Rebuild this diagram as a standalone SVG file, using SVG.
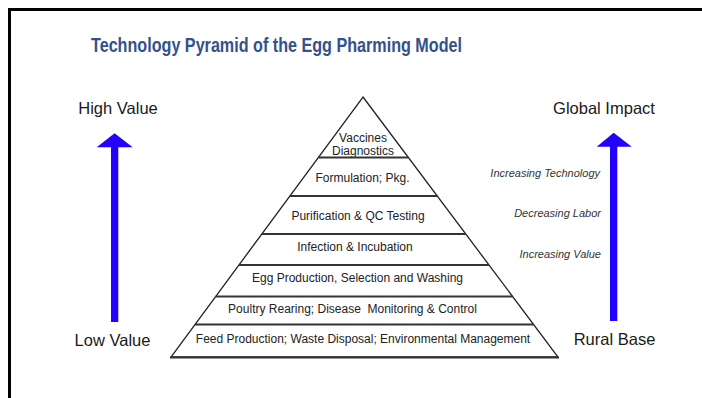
<svg xmlns="http://www.w3.org/2000/svg" width="702" height="398" viewBox="0 0 702 398">
  <style>
    .frame { fill: none; stroke: #000; stroke-width: 3; }
    .title { font-family: "Liberation Sans", Arial, sans-serif; font-weight: bold; font-size: 19.5px; fill: #34518c; }
    .side { font-family: "Liberation Sans", Arial, sans-serif; font-size: 16.5px; fill: #1a1a1a; text-anchor: middle; }
    .note { font-family: "Liberation Sans", Arial, sans-serif; font-style: italic; font-size: 11px; fill: #333; text-anchor: end; }
    .tier { font-family: "Liberation Sans", Arial, sans-serif; font-size: 12px; fill: #222; text-anchor: middle; }
    .outline { fill: #fff; stroke: #222; stroke-width: 1.3; stroke-linejoin: miter; }
    .divider { stroke: #333; stroke-width: 1.8; }
    .shaft { fill: #2400ff; }
  </style>

  <rect width="702" height="398" fill="#fff"/>
  <!-- frame: top and left edges only -->
  <path class="frame" d="M9.5,398 V9.5 H702"/>

  <text id="title" class="title" x="91" y="52" textLength="371" lengthAdjust="spacingAndGlyphs">Technology Pyramid of the Egg Pharming Model</text>

  <!-- side labels -->
  <g id="high-value"><text class="side" x="118" y="114">High Value</text></g>
  <g id="low-value"><text class="side" x="112.5" y="346">Low Value</text></g>
  <g id="global-impact"><text class="side" x="604" y="114">Global Impact</text></g>
  <g id="rural-base"><text class="side" x="614.5" y="345">Rural Base</text></g>

  <g id="trend-notes">
    <text class="note" x="600" y="177">Increasing Technology</text>
    <text class="note" x="601" y="216.5">Decreasing Labor</text>
    <text class="note" x="601" y="258">Increasing Value</text>
  </g>

  <!-- pyramid outline -->
  <g id="pyramid">
    <polygon class="outline" points="363,97 558,357 171,357"/>
    <line class="divider" x1="170" y1="357.5" x2="559" y2="357.5"/>
  </g>

  <!-- tiers, top to bottom -->
  <g id="tier-vaccines">
    <text class="tier" x="363" y="141.5">Vaccines</text>
    <text class="tier" x="363" y="155">Diagnostics</text>
    <line class="divider" x1="318.3" y1="157.5" x2="408.4" y2="157.5"/>
  </g>
  <g id="tier-formulation">
    <text class="tier" x="362.5" y="182">Formulation; Pkg.</text>
    <line class="divider" x1="289.9" y1="196" x2="437.3" y2="196"/>
  </g>
  <g id="tier-purification">
    <text class="tier" x="358" y="220">Purification &amp; QC Testing</text>
    <line class="divider" x1="261.8" y1="234" x2="465.8" y2="234"/>
  </g>
  <g id="tier-infection">
    <text class="tier" x="355" y="250.5">Infection &amp; Incubation</text>
    <line class="divider" x1="238.9" y1="265" x2="489" y2="265"/>
  </g>
  <g id="tier-egg">
    <text class="tier" x="357.5" y="282">Egg Production, Selection and Washing</text>
    <line class="divider" x1="215.7" y1="296.5" x2="512.6" y2="296.5"/>
  </g>
  <g id="tier-poultry">
    <text class="tier" x="352.5" y="313" xml:space="preserve">Poultry Rearing; Disease  Monitoring &amp; Control</text>
    <line class="divider" x1="195" y1="324.5" x2="533.6" y2="324.5"/>
  </g>
  <g id="tier-feed">
    <text class="tier" x="363" y="343">Feed Production; Waste Disposal; Environmental Management</text>
  </g>

  <!-- vertical arrows -->
  <g id="connectors">
    <g id="arrow-value">
      <rect class="shaft" x="111" y="146" width="7.3" height="176"/>
      <polygon class="shaft" points="96.7,147.3 132.7,147.3 114.6,133.3"/>
    </g>
    <g id="arrow-impact">
      <rect class="shaft" x="610" y="145.5" width="7.3" height="175.5"/>
      <polygon class="shaft" points="596.7,146.7 631.7,146.7 613.7,132.7"/>
    </g>
  </g>
</svg>
